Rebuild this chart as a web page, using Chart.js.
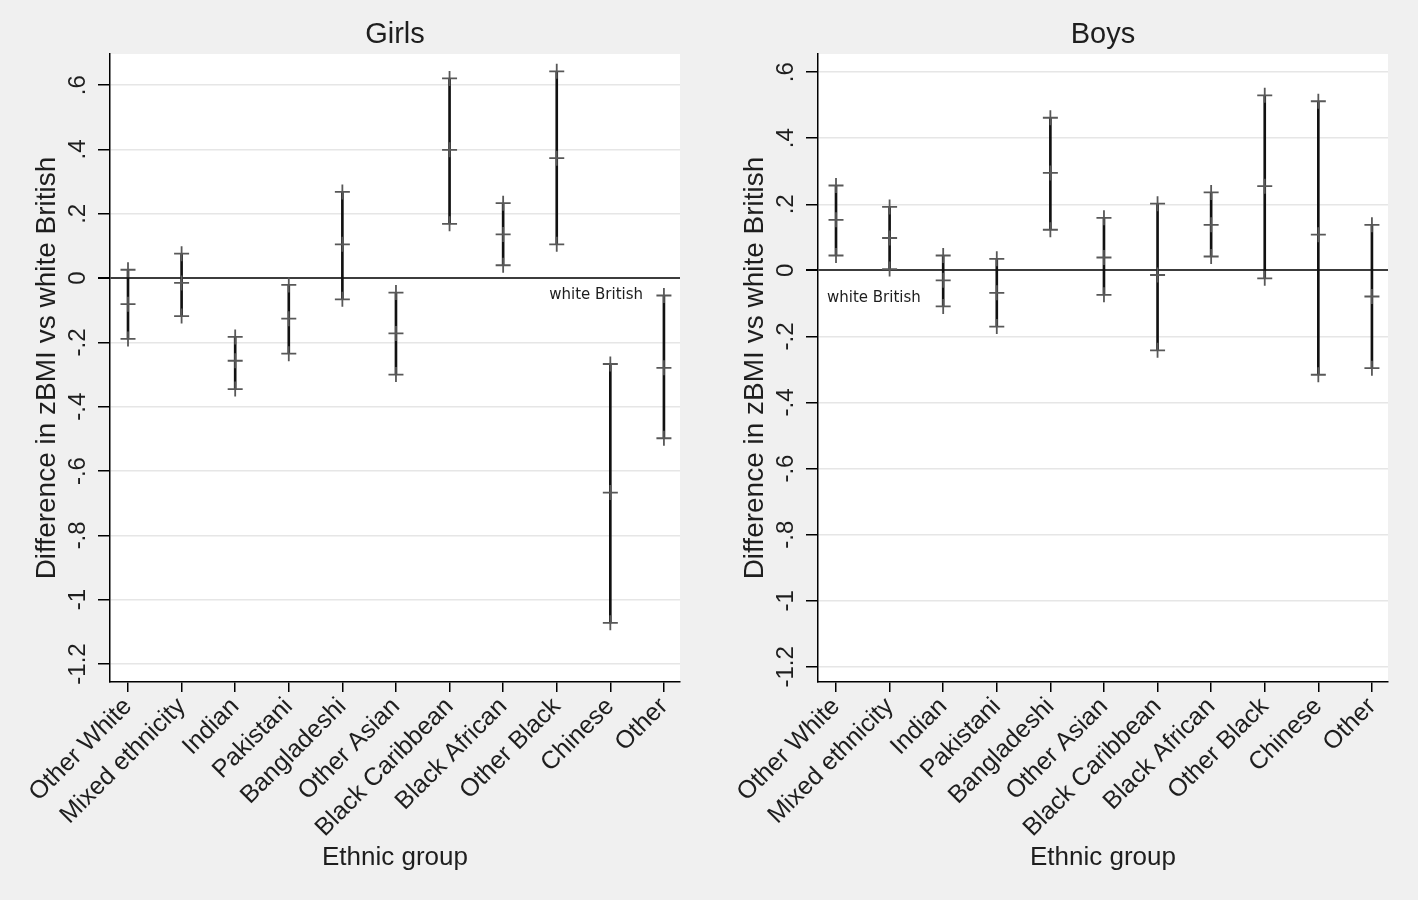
<!DOCTYPE html>
<html>
<head>
<meta charset="utf-8">
<script src="https://cdn.jsdelivr.net/npm/chart.js@4.4.1/dist/chart.umd.min.js"></script>
<style>
html,body{margin:0;padding:0;background:#f0f0f0;}
#wrap{position:relative;width:1418px;height:900px;overflow:hidden;background:#f0f0f0;}
.panel{position:absolute;top:0;width:709px;height:900px;}
</style>
</head>
<body>
<div id="wrap">
  <div class="panel" style="left:0px"><canvas id="girls"></canvas></div>
  <div class="panel" style="left:708px"><canvas id="boys"></canvas></div>
</div>
<script>
// ---------- data ----------
const categories = ["Other White","Mixed ethnicity","Indian","Pakistani","Bangladeshi","Other Asian","Black Caribbean","Black African","Other Black","Chinese","Other"];

const girlsMean  = [-0.081, -0.015, -0.257, -0.126, 0.105, -0.172, 0.399, 0.136, 0.373, -0.667, -0.279];
const girlsLower = [-0.189, -0.118, -0.345, -0.235, -0.066, -0.300, 0.169, 0.040, 0.105, -1.072, -0.498];
const girlsUpper = [0.026, 0.076, -0.183, -0.021, 0.268, -0.045, 0.621, 0.233, 0.643, -0.267, -0.054];

const boysMean  = [0.153, 0.098, -0.030, -0.068, 0.295, 0.039, -0.014, 0.138, 0.255, 0.108, -0.079];
const boysLower = [0.045, 0.004, -0.109, -0.170, 0.123, -0.074, -0.242, 0.042, -0.024, -0.316, -0.296];
const boysUpper = [0.257, 0.192, 0.045, 0.035, 0.462, 0.159, 0.202, 0.236, 0.530, 0.512, 0.138];

const yTickValues = [0.6, 0.4, 0.2, 0, -0.2, -0.4, -0.6, -0.8, -1, -1.2];
const referenceLabel = "white British";
const xTitle = "Ethnic group";
const yTitle = "Difference in zBMI vs white British";

// ---------- helpers ----------
const FONT = '"Liberation Sans", Arial, Helvetica, sans-serif';
const SMALL_FONT = '"DejaVu Sans", Verdana, sans-serif';
Chart.defaults.font.family = FONT;
Chart.defaults.color = '#1e1e1e';

function fmtTick(v) {
  if (Math.abs(v) < 1e-9) return '0';
  let s = Math.abs(v).toFixed(1).replace(/\.0$/, '').replace(/^0/, '');
  return (v < 0 ? '-' : '') + s;
}

const plotDecor = {
  id: 'plotDecor',
  beforeDraw(chart) {
    const a = chart.chartArea, ctx = chart.ctx;
    ctx.save();
    ctx.fillStyle = '#ffffff';
    ctx.fillRect(a.left, a.top, a.right - a.left, a.bottom - a.top);
    ctx.restore();
  },
  afterDraw(chart, args, opts) {
    const ctx = chart.ctx, a = chart.chartArea, ys = chart.scales.y;
    ctx.save();
    ctx.fillStyle = '#1e1e1e';
    ctx.font = '24px ' + FONT;
    ctx.textAlign = 'center';
    ctx.textBaseline = 'middle';
    ys.ticks.forEach(t => {
      const py = ys.getPixelForValue(t.value);
      ctx.save();
      ctx.translate(a.left - opts.tickLabelOffset, py);
      ctx.rotate(-Math.PI / 2);
      ctx.fillText(fmtTick(t.value), 0, 0);
      ctx.restore();
    });
    const y0 = ys.getPixelForValue(0);
    ctx.font = '15px ' + SMALL_FONT;
    ctx.fillStyle = '#1e1e1e';
    ctx.textBaseline = 'middle';
    if (opts.refAlign === 'right') {
      ctx.textAlign = 'right';
      ctx.fillText(referenceLabel, a.right - opts.refDx, y0 + opts.refDy);
    } else {
      ctx.textAlign = 'left';
      ctx.fillText(referenceLabel, a.left + opts.refDx, y0 + opts.refDy);
    }
    ctx.restore();
  }
};

function makeChart(id, title, mean, lower, upper, yMin, yMax, decor) {
  const barData = categories.map((c, i) => ({x: i + 1, y: [lower[i], upper[i]]}));
  const pts = arr => categories.map((c, i) => ({x: i + 1, y: arr[i]}));
  const crossStyle = {
    type: 'scatter', pointStyle: 'cross', pointRadius: 7.5, pointHoverRadius: 7.5,
    borderColor: '#585858', backgroundColor: '#585858', borderWidth: 1.8, order: 1
  };
  return new Chart(document.getElementById(id), {
    type: 'bar',
    data: {
      datasets: [
        {type: 'bar', data: barData, backgroundColor: '#111111', borderWidth: 0, barThickness: 2, order: 2},
        Object.assign({data: pts(upper)}, crossStyle),
        Object.assign({data: pts(mean)}, crossStyle),
        Object.assign({data: pts(lower)}, crossStyle)
      ]
    },
    options: {
      responsive: true,
      maintainAspectRatio: false,
      animation: false,
      events: [],
      layout: {padding: {left: 0, right: 29, top: 0, bottom: 27}},
      plugins: {
        legend: {display: false},
        tooltip: {enabled: false},
        title: {
          display: true, text: title, fullSize: false, color: '#1e1e1e',
          font: {size: 29, weight: 'normal', family: FONT},
          padding: {top: 17.6, bottom: 1.6}
        },
        plotDecor: decor
      },
      scales: {
        x: {
          type: 'linear', min: 0.664, max: 11.30, offset: false,
          afterBuildTicks: s => { s.ticks = categories.map((c, i) => ({value: i + 1})); },
          afterFit: s => { s.height = 191; },
          ticks: {
            autoSkip: false, minRotation: 45, maxRotation: 45, padding: 0,
            font: {size: 25, family: FONT}, color: '#1e1e1e',
            callback: v => categories[Math.round(v) - 1]
          },
          grid: {offset: false, drawOnChartArea: false, drawTicks: true, tickLength: 10, tickColor: '#000', lineWidth: 1.5},
          border: {display: true, color: '#000', width: 1.5},
          title: {display: true, text: xTitle, font: {size: 26, family: FONT}, color: '#1e1e1e', padding: {top: 0, bottom: 0}}
        },
        y: {
          type: 'linear', min: yMin, max: yMax,
          afterBuildTicks: s => { s.ticks = yTickValues.map(v => ({value: v})); },
          afterFit: s => { s.width = 110; },
          ticks: {display: false},
          grid: {
            drawTicks: true, tickLength: 12, tickColor: '#000',
            color: c => (c.tick && Math.abs(c.tick.value) < 1e-9) ? '#3c3c3c' : '#e6e6e6',
            lineWidth: c => (c.tick && Math.abs(c.tick.value) < 1e-9) ? 2 : 1.5
          },
          border: {display: true, color: '#000', width: 1.5},
          title: {display: true, text: yTitle, font: {size: 28, family: FONT}, color: '#1e1e1e', padding: {top: 30, bottom: 0}}
        }
      }
    },
    plugins: [plotDecor]
  });
}

makeChart('girls', 'Girls', girlsMean, girlsLower, girlsUpper, -1.256, 0.697,
  {tickLabelOffset: 32, refAlign: 'right', refDx: 37, refDy: 17});
makeChart('boys', 'Boys', boysMean, boysLower, boysUpper, -1.246, 0.655,
  {tickLabelOffset: 32, refAlign: 'left', refDx: 9, refDy: 28});
</script>
</body>
</html>
